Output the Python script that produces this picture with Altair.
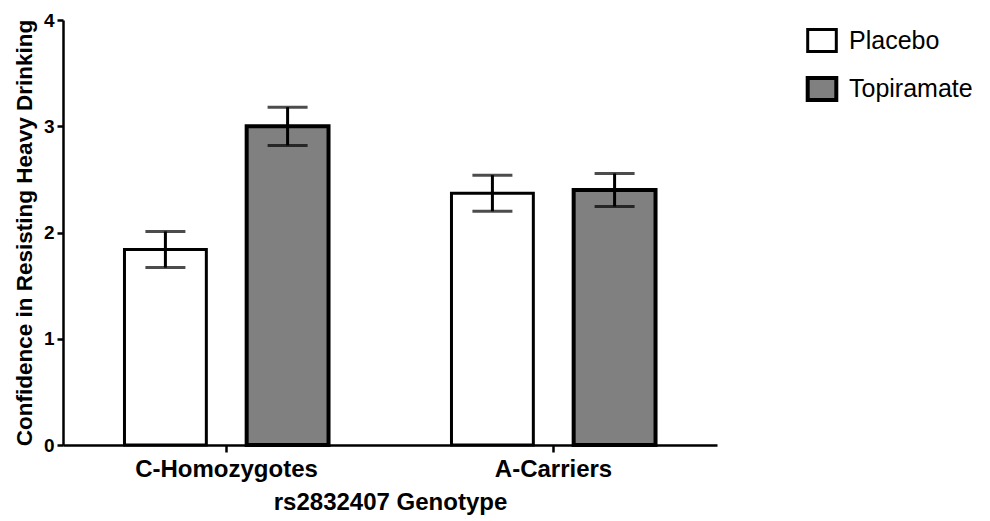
import altair as alt
import pandas as pd

genotypes = ["C-Homozygotes", "C-Homozygotes", "A-Carriers", "A-Carriers"]
groups = ["Placebo", "Topiramate", "Placebo", "Topiramate"]
means = [1.84, 3.00, 2.37, 2.40]
sems = [0.17, 0.18, 0.17, 0.155]

genotype_order = ["C-Homozygotes", "A-Carriers"]
group_order = ["Placebo", "Topiramate"]
y_ticks = [0, 1, 2, 3, 4]

df = pd.DataFrame({"genotype": genotypes, "group": groups, "mean": means, "sem": sems})
df["lo"] = df["mean"] - df["sem"]
df["hi"] = df["mean"] + df["sem"]

FONT = "Liberation Sans"

x_enc = alt.X(
    "genotype:N",
    sort=genotype_order,
    scale=alt.Scale(paddingInner=0.376, paddingOuter=0.188),
    axis=alt.Axis(
        title="rs2832407 Genotype",
        labelAngle=0,
        labelFontSize=24,
        labelLimit=400,
        titleFontSize=24,
        labelPadding=5,
        titlePadding=9,
        tickSize=7,
    ),
)
xoff = alt.XOffset("group:N", sort=group_order, scale=alt.Scale(paddingInner=0.33, paddingOuter=0))
y_scale = alt.Scale(domain=[0, 4], nice=False)

base = alt.Chart(df)

bars = base.mark_bar(stroke="black").encode(
    x=x_enc,
    xOffset=xoff,
    y=alt.Y(
        "mean:Q",
        scale=y_scale,
        axis=alt.Axis(
            title="Confidence in Resisting Heavy Drinking",
            values=y_ticks,
            format="d",
            labelFontSize=19,
            titleFontSize=22.5,
            labelPadding=3,
            titlePadding=7,
            tickSize=6,
        ),
    ),
    fill=alt.Fill(
        "group:N",
        sort=group_order,
        scale=alt.Scale(domain=group_order, range=["white", "#808080"]),
        legend=alt.Legend(
            title=None,
            orient="none",
            legendX=746,
            legendY=8,
            symbolType="M-1.3,-1L1.3,-1L1.3,1L-1.3,1Z",
            symbolSize=484,
            symbolStrokeColor="black",
            symbolStrokeWidth=3.5,
            labelFontSize=25,
            labelFont=FONT,
            labelFontWeight="normal",
            labelColor="black",
            labelOffset=14,
            rowPadding=12,
            padding=0,
        ),
    ),
    strokeWidth=alt.StrokeWidth(
        "group:N", scale=alt.Scale(domain=group_order, range=[3, 4]), legend=None
    ),
)

rules = base.mark_rule(color="black", strokeWidth=3).encode(
    x=x_enc, xOffset=xoff, y=alt.Y("lo:Q", scale=y_scale), y2="hi:Q"
)
caps_lo = base.mark_tick(color="black", thickness=3, size=40).encode(
    x=x_enc, xOffset=xoff, y=alt.Y("lo:Q", scale=y_scale)
)
caps_hi = base.mark_tick(color="black", thickness=3, size=40).encode(
    x=x_enc, xOffset=xoff, y=alt.Y("hi:Q", scale=y_scale)
)

chart = (
    alt.layer(bars, rules, caps_lo, caps_hi)
    .properties(
        width=654,
        height=425,
        autosize=alt.AutoSizeParams(type="none"),
        padding={"left": 55, "top": 12, "right": 260, "bottom": 74},
    )
    .configure_view(stroke=None)
    .configure_axis(
        grid=False,
        domainColor="black",
        domainWidth=2.5,
        tickColor="black",
        tickWidth=2.5,
        labelColor="black",
        titleColor="black",
        labelFont=FONT,
        titleFont=FONT,
        labelFontWeight="bold",
        titleFontWeight="bold",
    )
)

chart.save("out.html", embed_options={"renderer": "svg", "actions": False})
